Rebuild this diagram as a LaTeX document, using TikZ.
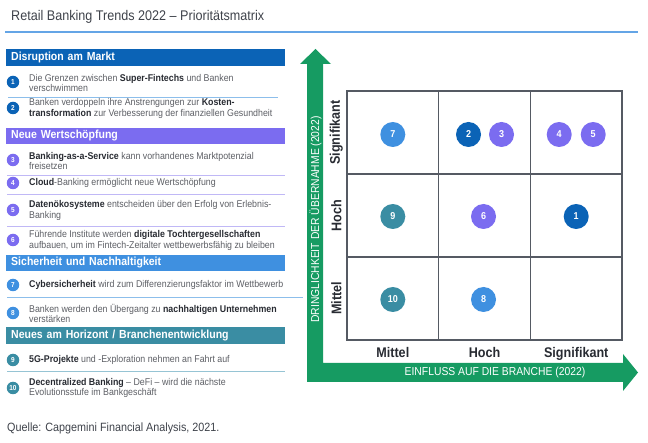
\documentclass[tikz,border=0pt]{standalone}
\usepackage{fontspec}
\setmainfont{Liberation Sans}[FakeStretch=0.9]
\usetikzlibrary{positioning, calc}
\definecolor{tgray} {RGB}{62,66,74}
\definecolor{txgray}{RGB}{92,94,100}
\definecolor{txdark}{RGB}{40,43,50}
\definecolor{rblue} {RGB}{100,165,230}
\definecolor{dblue} {RGB}{11,99,182}
\definecolor{vlila} {RGB}{123,108,240}
\definecolor{mblue} {RGB}{63,144,224}
\definecolor{pteal} {RGB}{58,141,163}
\definecolor{agreen}{RGB}{22,155,98}
\definecolor{ggray} {RGB}{85,90,99}
\definecolor{sepblue}{RGB}{140,190,235}
\definecolor{seplila}{RGB}{192,184,246}
\definecolor{septeal}{RGB}{150,196,212}
\newcommand{\kw}[1]{\textcolor{txdark}{\textbf{#1}}}

\tikzset{
  secbar/.style={fill=#1, anchor=west, text=white, align=left,
    text width=269pt, inner xsep=5pt, inner ysep=0pt, minimum height=16.5pt,
    font=\bfseries\fontsize{11.7}{12}\selectfont},
  numdot/.style={circle, fill=#1, text=white, inner sep=0pt,
    minimum size=12.5pt, font=\bfseries\fontsize{7.2}{7}\selectfont},
  itemtxt/.style={anchor=west, align=left, inner sep=0pt, text=txgray,
    font=\fontsize{9.8}{10.5}\selectfont},
  sepline/.style={draw=#1, line width=0.9pt},
  cell/.style={draw=ggray, line width=1.2pt, minimum width=91.67pt,
    minimum height=83pt, inner sep=0pt},
  bigdot/.style={circle, fill=#1, text=white, inner sep=0pt,
    minimum size=25pt, font=\bfseries\fontsize{10}{10}\selectfont},
  axlab/.style={text=txdark, font=\bfseries\fontsize{14}{15}\selectfont},
  axtext/.style={text=white, inner sep=0pt, font=\fontsize{11.5}{12}\selectfont}
}

\begin{document}
\begin{tikzpicture}[x=1pt, y=-1pt]
  \useasboundingbox (0,0) rectangle (648,443);

  % title
  \node[anchor=west, text=tgray, inner sep=0pt,
        font=\fontsize{14}{16}\selectfont] (title) at (11,17)
        {Retail Banking Trends 2022 – Prioritätsmatrix};
  \draw[rblue, line width=1.8pt] (5,32) -- (638,32);

  % left list
  \node[secbar=dblue] (bar1) at (6,57.5) {Disruption am Markt};
  \node[numdot=dblue] (n1) at (13,82) {1};
  \node[itemtxt] (t1) at (29,83)
    {Die Grenzen zwischen \kw{Super-Fintechs} und Banken\\verschwimmen};
  \draw[sepline=sepblue] (8,97) -- (278,97);
  \node[numdot=dblue] (n2) at (13,108) {2};
  \node[itemtxt] (t2) at (29,108.5)
    {Banken verdoppeln ihre Anstrengungen zur \kw{Kosten-}\\\kw{transformation} zur Verbesserung der finanziellen Gesundheit};

  \node[secbar=vlila] (bar2) at (6,136) {Neue Wertschöpfung};
  \node[numdot=vlila] (n3) at (13,160) {3};
  \node[itemtxt] (t3) at (29,161)
    {\kw{Banking-as-a-Service} kann vorhandenes Marktpotenzial\\freisetzen};
  \draw[sepline=seplila] (7,175) -- (285,175);
  \node[numdot=vlila] (n4) at (13,183) {4};
  \node[itemtxt] (t4) at (29,183)
    {\kw{Cloud}-Banking ermöglicht neue Wertschöpfung};
  \draw[sepline=seplila] (7,194) -- (285,194);
  \node[numdot=vlila] (n5) at (13,210) {5};
  \node[itemtxt] (t5) at (29,210.5)
    {\kw{Datenökosysteme} entscheiden über den Erfolg von Erlebnis-\\Banking};
  \draw[sepline=seplila] (7,226) -- (285,226);
  \node[numdot=vlila] (n6) at (13,240) {6};
  \node[itemtxt] (t6) at (29,240.5)
    {Führende Institute werden \kw{digitale Tochtergesellschaften}\\aufbauen, um im Fintech-Zeitalter wettbewerbsfähig zu bleiben};

  \node[secbar=mblue] (bar3) at (6,263) {Sicherheit und Nachhaltigkeit};
  \node[numdot=mblue] (n7) at (13,285) {7};
  \node[itemtxt] (t7) at (29,285)
    {\kw{Cybersicherheit} wird zum Differenzierungsfaktor im Wettbewerb};
  \draw[sepline=sepblue] (7,297) -- (303,297);
  \node[numdot=mblue] (n8) at (13,313) {8};
  \node[itemtxt] (t8) at (29,313.5)
    {Banken werden den Übergang zu \kw{nachhaltigen Unternehmen}\\verstärken};

  \node[secbar=pteal] (bar4) at (6,335.5) {Neues am Horizont / Branchenentwicklung};
  \node[numdot=pteal] (n9) at (13,360) {9};
  \node[itemtxt] (t9) at (29,360)
    {\kw{5G-Projekte} und -Exploration nehmen an Fahrt auf};
  \draw[sepline=septeal] (7,371) -- (285,371);
  \node[numdot=pteal] (n10) at (13,388) {10};
  \node[itemtxt] (t10) at (29,388)
    {\kw{Decentralized Banking} – DeFi – wird die nächste\\Evolutionsstufe im Bankgeschäft};

  \node[anchor=west, inner sep=0pt, text=tgray,
        font=\fontsize{12}{14}\selectfont] (src) at (7,428)
        {Quelle: Capgemini Financial Analysis, 2021.};

  % axes
  \fill[agreen] (307,382) -- (307,64) -- (300,64) -- (315.5,49) -- (331,64)
    -- (323,64) -- (323,363) -- (623,363) -- (623,354) -- (638,372.5)
    -- (623,391) -- (623,382) -- cycle;
  \node[axtext, rotate=90] (yax) at (315.5,219.5) {DRINGLICHKEIT DER ÜBERNAHME (2022)};
  \node[axtext] (xax) at (495,373) {EINFLUSS AUF DIE BRANCHE (2022)};

  % matrix
  \node[cell] (m11) at (392.8,132.5) {};
  \node[cell] (m12) at (484.5,132.5) {};
  \node[cell] (m13) at (576.2,132.5) {};
  \node[cell] (m21) at (392.8,215.5) {};
  \node[cell] (m22) at (484.5,215.5) {};
  \node[cell] (m23) at (576.2,215.5) {};
  \node[cell] (m31) at (392.8,298.5) {};
  \node[cell] (m32) at (484.5,298.5) {};
  \node[cell] (m33) at (576.2,298.5) {};

  \node[axlab, rotate=90] (ysig) at ($(m11.west)+(-10,0)$) {Signifikant};
  \node[axlab, rotate=90] (yhoch) at ($(m21.west)+(-10,0)$) {Hoch};
  \node[axlab, rotate=90] (ymit) at ($(m31.west)+(-10,0)$) {Mittel};
  \node[axlab, below=3pt of m31] (xmit) {Mittel};
  \node[axlab, below=3pt of m32] (xhoch) {Hoch};
  \node[axlab, below=3pt of m33] (xsig) {Signifikant};

  \node[bigdot=mblue] (d7) at ($(m11)+(0,2)$) {7};
  \node[bigdot=dblue] (d2) at ($(m12)+(-16,2)$) {2};
  \node[bigdot=vlila] (d3) at ($(m12)+(17,2)$) {3};
  \node[bigdot=vlila] (d4) at ($(m13)+(-17,2)$) {4};
  \node[bigdot=vlila] (d5) at ($(m13)+(17,2)$) {5};
  \node[bigdot=pteal] (d9) at ($(m21)+(0,1)$) {9};
  \node[bigdot=vlila] (d6) at ($(m22)+(-1,1)$) {6};
  \node[bigdot=dblue] (d1) at ($(m23)+(0,1)$) {1};
  \node[bigdot=pteal] (d10) at ($(m31)+(0,1)$) {10};
  \node[bigdot=mblue] (d8) at ($(m32)+(-1,1)$) {8};
\end{tikzpicture}
\end{document}
